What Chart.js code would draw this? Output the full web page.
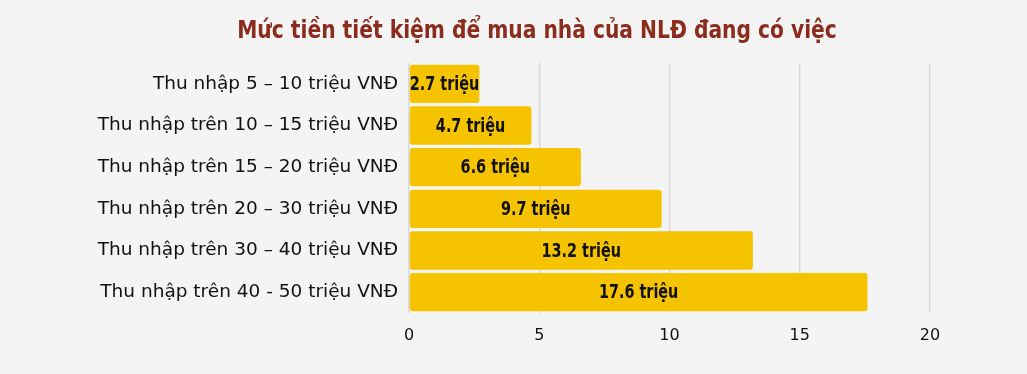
<!DOCTYPE html>
<html><head><meta charset="utf-8">
<script src="https://cdn.jsdelivr.net/npm/chart.js@4"></script>
<style>html,body{margin:0;padding:0;background:#f4f4f4;}#wrap{width:1027px;height:374px;}</style>
</head><body><div id="wrap"><canvas id="c" width="1027" height="374"></canvas></div>
<script>
const chartTitle = 'Mức tiền tiết kiệm để mua nhà của NLĐ đang có việc';
const categories = ['Thu nhập 5 – 10 triệu VNĐ','Thu nhập trên 10 – 15 triệu VNĐ','Thu nhập trên 15 – 20 triệu VNĐ','Thu nhập trên 20 – 30 triệu VNĐ','Thu nhập trên 30 – 40 triệu VNĐ','Thu nhập trên 40 - 50 triệu VNĐ'];
const savings = [2.7, 4.7, 6.6, 9.7, 13.2, 17.6];
const valueSuffix = ' triệu';
const xTicks = [0, 5, 10, 15, 20];

const condensed = "'DejaVu Sans Condensed','Liberation Sans Narrow','Roboto',sans-serif";

function drawSqueezed(ctx, text, x, y, sx) {
  ctx.save();
  ctx.translate(x, y);
  ctx.scale(sx, 1);
  ctx.fillText(text, 0, 0);
  ctx.restore();
}

const textPlugin = {
  id: 'textPlugin',
  afterDatasetsDraw(chart) {
    const ctx = chart.ctx;
    const meta = chart.getDatasetMeta(0);
    ctx.save();
    ctx.font = "bold 20px " + condensed;
    ctx.fillStyle = '#111';
    ctx.textAlign = 'center';
    ctx.textBaseline = 'middle';
    meta.data.forEach((bar, i) => {
      const cx = (bar.base + bar.x) / 2;
      drawSqueezed(ctx, savings[i] + valueSuffix, cx, bar.y + 1, 0.8);
    });
    ctx.font = "bold 25px " + condensed;
    ctx.fillStyle = '#8b2c1c';
    drawSqueezed(ctx, chartTitle, 537, 31, 0.9);
    ctx.restore();
  }
};

new Chart(document.getElementById('c'), {
  type: 'bar',
  data: {
    labels: categories,
    datasets: [{
      data: savings,
      backgroundColor: '#f5c300',
      borderRadius: 3,
      borderSkipped: false,
      barPercentage: 0.92,
      categoryPercentage: 1.0
    }]
  },
  options: {
    indexAxis: 'y',
    responsive: false,
    animation: false,
    layout: { padding: { top: 63, right: 97, bottom: 0, left: 0 } },
    plugins: {
      legend: { display: false },
      tooltip: { enabled: false },
      title: { display: false }
    },
    scales: {
      x: {
        min: 0, max: 20,
        afterBuildTicks(scale) { scale.ticks = xTicks.map(v => ({ value: v })); },
        grid: { color: '#d9d9d9', lineWidth: 1.5, drawTicks: false },
        border: { display: false },
        ticks: { color: '#111', padding: 13, font: { family: "'DejaVu Sans', sans-serif", size: 16 } },
        afterFit(scale) { scale.height = 61; }
      },
      y: {
        grid: { display: false },
        border: { display: false },
        ticks: { color: '#111', padding: 3, font: { family: "'DejaVu Sans', sans-serif", size: 18.5 } },
        afterFit(scale) { scale.width = 409; }
      }
    }
  },
  plugins: [textPlugin]
});
</script></body></html>
